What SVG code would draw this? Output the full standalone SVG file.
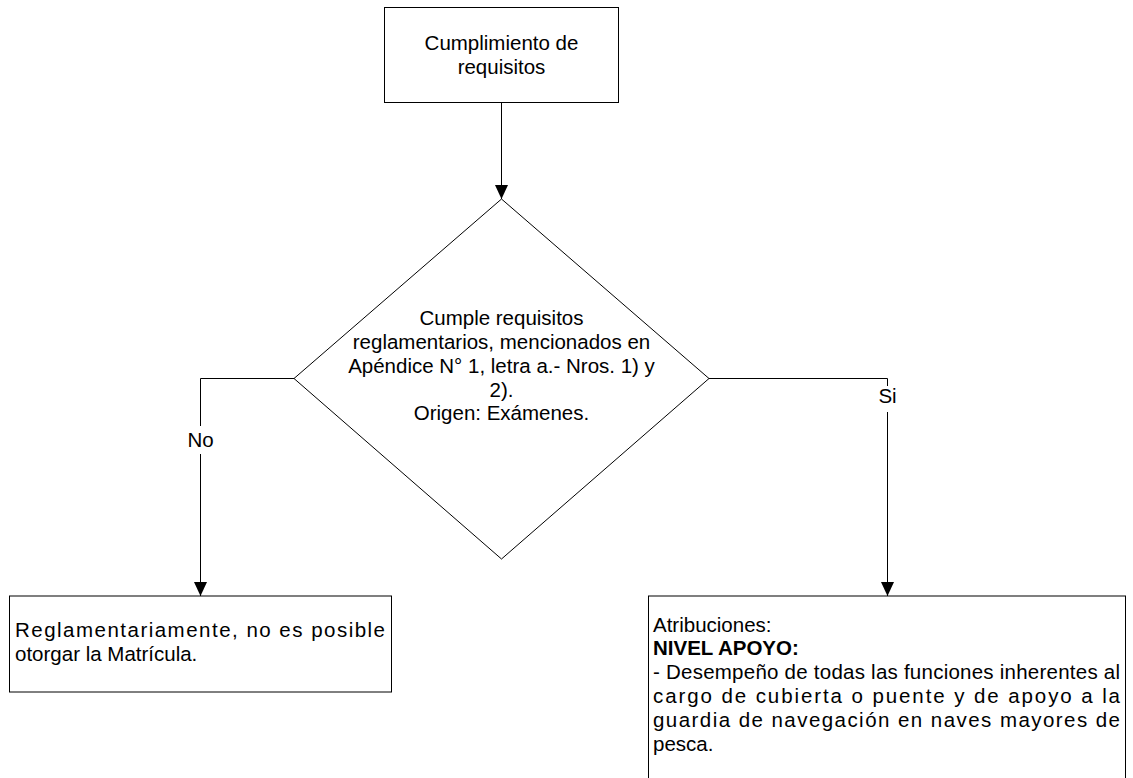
<svg xmlns="http://www.w3.org/2000/svg" width="1133" height="778" viewBox="0 0 1133 778">
<style>
  .shape { fill: #ffffff; stroke: #000000; stroke-width: 1; }
  .conn { fill: none; stroke: #000000; stroke-width: 1; }
  text { font-family: "Liberation Sans", Arial, sans-serif; font-size: 20.5px; fill: #000000; }
  .c { text-anchor: middle; }
  .b { font-weight: bold; }
</style>
<defs>
  <marker id="arrow" markerUnits="userSpaceOnUse" markerWidth="14" markerHeight="14" refX="14" refY="7" orient="auto">
    <path d="M0,0.5 L14,7 L0,13.5 Z" fill="#000000"/>
  </marker>
</defs>
<rect width="1133" height="778" fill="#ffffff"/>
<g id="connectors">
  <path class="conn" d="M501.5,102.5 V199" marker-end="url(#arrow)"/>
  <path class="conn" d="M294,378.5 H200.5 V596" marker-end="url(#arrow)"/>
  <path class="conn" d="M709,378.5 H887.5 V596" marker-end="url(#arrow)"/>
  <rect x="188" y="426" width="26" height="28" fill="#ffffff"/>
  <text class="c" x="200.5" y="446.5">No</text>
  <rect x="878" y="386" width="19" height="26" fill="#ffffff"/>
  <text class="c" x="887.5" y="403">Si</text>
</g>
<g id="start">
  <rect class="shape" x="384.5" y="7.5" width="234" height="95"/>
  <text class="c" x="501.5" y="49.5">Cumplimiento de</text>
  <text class="c" x="501.5" y="73.5">requisitos</text>
</g>
<g id="decision">
  <polygon class="shape" points="501.5,199 709,378.5 501.5,559 294,378.5"/>
  <text class="c" x="501.5" y="325">Cumple requisitos</text>
  <text class="c" x="501.5" y="348.5">reglamentarios, mencionados en</text>
  <text class="c" x="501.5" y="372.5">Apéndice N° 1, letra a.- Nros. 1) y</text>
  <text class="c" x="501.5" y="396.5">2).</text>
  <text class="c" x="501.5" y="420">Origen: Exámenes.</text>
</g>
<g id="no-result">
  <rect class="shape" x="9.5" y="596" width="382" height="96"/>
  <text x="15" y="637" textLength="370" lengthAdjust="spacing">Reglamentariamente, no es posible</text>
  <text x="15" y="661">otorgar la Matrícula.</text>
</g>
<g id="si-result">
  <rect class="shape" x="648.5" y="596" width="477" height="200"/>
  <text x="653" y="631.5">Atribuciones:</text>
  <text class="b" x="653" y="655">NIVEL APOYO:</text>
  <text x="653" y="679" textLength="467" lengthAdjust="spacing">- Desempeño de todas las funciones inherentes al</text>
  <text x="653" y="703" textLength="467" lengthAdjust="spacing">cargo de cubierta o puente y de apoyo a la</text>
  <text x="653" y="727" textLength="467" lengthAdjust="spacing">guardia de navegación en naves mayores de</text>
  <text x="653" y="750.5">pesca.</text>
</g>
</svg>
